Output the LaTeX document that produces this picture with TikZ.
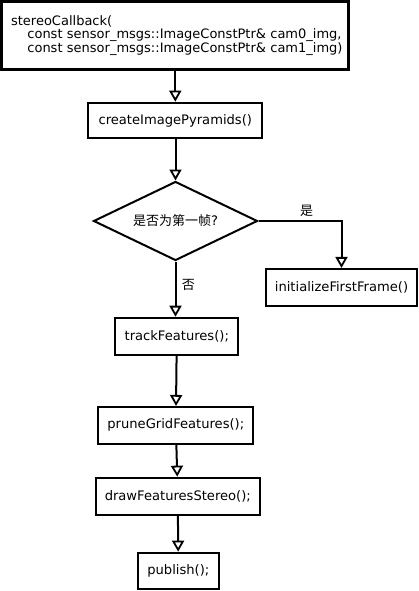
\documentclass[tikz,border=0pt]{standalone}
\usepackage{fontspec}
\setmainfont{DejaVu Sans}
\newfontfamily\cjk{Noto Sans CJK SC}
\usetikzlibrary{shapes.geometric,arrows.meta}
\tikzset{
  box/.style={draw=black, line width=2pt, fill=white, inner sep=0pt, align=center,
    font=\fontsize{13.1}{14}\selectfont},
  flow/.style={draw=black, line width=2pt, -{Triangle[open, length=11pt, width=12pt, line width=1.8pt]}},
  lbl/.style={font=\fontsize{13}{14}\selectfont\cjk, inner sep=0pt}
}
\begin{document}
\begin{tikzpicture}[x=1pt, y=-1pt]
\useasboundingbox (0,0) rectangle (419,591);
\node[box, line width=2.7pt, minimum width=347pt, minimum height=68pt, text width=347pt, align=left,
  font=\fontsize{13}{13.8}\selectfont] (cb) at (174.9,35.5)
  {\hspace*{9.7pt}stereoCallback(\\
  \hspace*{26pt}const sensor\_msgs::ImageConstPtr\& cam0\_img,\\
  \hspace*{26pt}const sensor\_msgs::ImageConstPtr\& cam1\_img)};
\node[box, minimum width=174pt, minimum height=35.6pt] (cip) at (175.3,120.5) {createImagePyramids()};
\node[box, diamond, aspect=2.076, minimum width=164pt, minimum height=79pt] (dec) at (175.5,221)
  {{\cjk\fontsize{13}{14}\selectfont 是否为第一帧}?};
\node[box, minimum width=151pt, minimum height=36.7pt] (init) at (341.5,287.3) {initializeFirstFrame()};
\node[box, minimum width=123pt, minimum height=37pt] (track) at (176.8,336.2) {trackFeatures();};
\node[box, minimum width=155pt, minimum height=36.7pt] (prune) at (175.8,425.3) {pruneGridFeatures();};
\node[box, minimum width=163.7pt, minimum height=37.3pt] (drawf) at (177.8,496.3) {drawFeaturesStereo();};
\node[box, minimum width=81.3pt, minimum height=36.3pt] (pub) at (178.3,570.8) {publish();};
\draw[flow] (cb.south -| cip.north) -- (cip.north);
\draw[flow] (cip.south -| dec.north) -- (dec.north);
\draw[flow] (dec.south) -- (dec.south |- track.north);
\draw[flow] (dec.east) -- (init.north |- dec.east) -- (init.north);
\draw[flow] (track) -- (prune);
\draw[flow] (prune) -- (drawf);
\draw[flow] (drawf) -- (pub);
\node[lbl] (yes) at (306.7,210.7) {是};
\node[lbl] (no) at (188.3,285) {否};
\end{tikzpicture}
\end{document}
